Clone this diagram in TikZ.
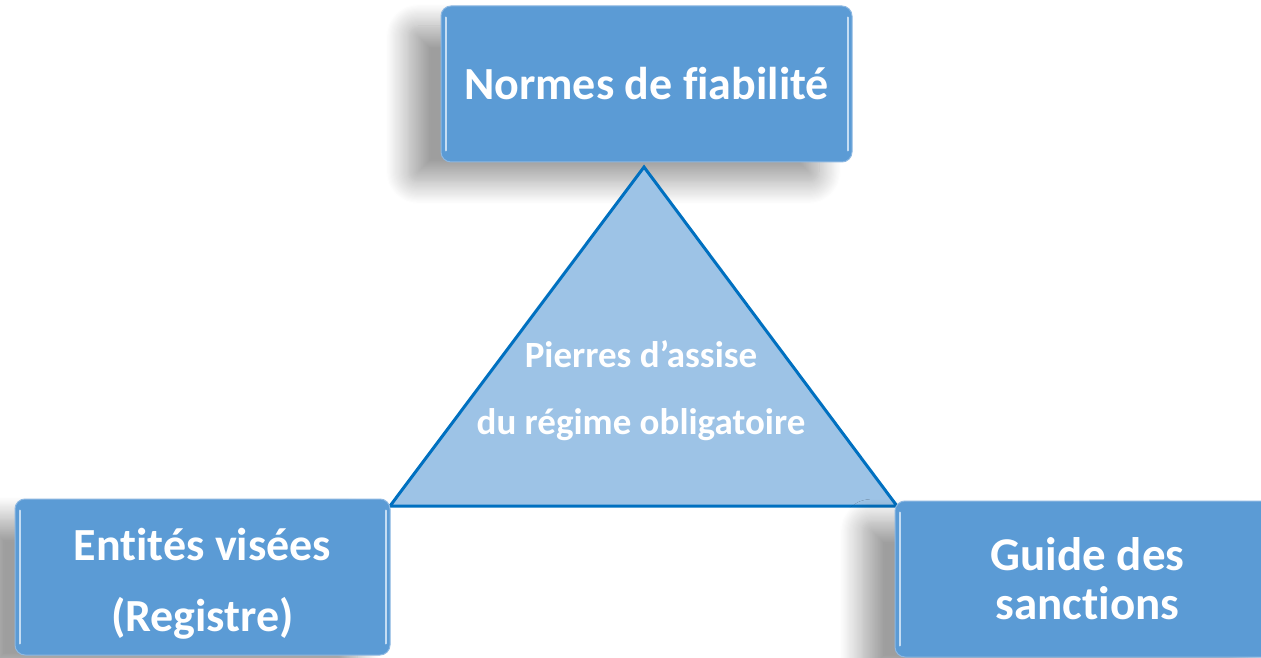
\documentclass[tikz,border=0pt]{standalone}
\usepackage{fontspec}
\setmainfont{Carlito}[Ligatures={NoCommon}]
\usetikzlibrary{shadows.blur}

\definecolor{boxblue}{HTML}{5B9BD5}
\definecolor{boxedge}{HTML}{8DB8E2}
\definecolor{bevelblue}{HTML}{C5DDF3}
\definecolor{trifill}{HTML}{9DC3E6}
\definecolor{triedge}{HTML}{0070C0}

\begin{document}
\begin{tikzpicture}[x=1pt,y=1pt,
            every node/.style={text=white,font=\bfseries,align=center,inner sep=0pt},
            box/.style={draw=boxedge,fill=boxblue,line width=1pt,rounded corners=10pt,
                blur shadow={shadow xshift=-33pt,shadow yshift=-20pt,shadow blur radius=22pt,
                    shadow blur steps=20,shadow opacity=38}},
            bevel/.style={draw=bevelblue,line width=2pt,line cap=round}]
                \useasboundingbox (0,0) rectangle (1261,657);
                \clip (0,0) rectangle (1261,657);

                % top box
                \node[box,minimum width=411pt,minimum height=156pt,
                      font=\bfseries\fontsize{46}{56}\selectfont](normes) at (646.5, 573) {Normes de fiabilit\'e};
                \draw[bevel]([shift={(5pt,12pt)}]normes.south west)--([shift={(5pt,-12pt)}]normes.north west);
                \draw[bevel]([shift={(-5pt,12pt)}]normes.south east)--([shift={(-5pt,-12pt)}]normes.north east);

                % triangle
                \coordinate(apex) at (644, 490);
                \coordinate(baseL) at (390, 151);
                \coordinate(baseR) at (897, 151);
                \draw[triedge,fill=trifill,line width=3pt,line join=miter](apex)--(baseL)--(baseR)--cycle;
                \node[font=\bfseries\fontsize{37}{67}\selectfont](pierres) at (641, 266)
                    {Pierres d\textquoteright assise\\du r\'egime obligatoire};

                % bottom boxes
                \node[box,minimum width=375pt,minimum height=156pt](entites) at (202.5, 80) {};
                \node[font=\bfseries\fontsize{46}{71}\selectfont](entitesText) at ([yshift=-7pt]entites.center)
                    {Entit\'es vis\'ees\\(Registre)};
                \draw[bevel]([shift={(5pt,12pt)}]entites.south west)--([shift={(5pt,-12pt)}]entites.north west);
                \draw[bevel]([shift={(-5pt,12pt)}]entites.south east)--([shift={(-5pt,-12pt)}]entites.north east);

                \node[box,minimum width=385pt,minimum height=156pt,
                      font=\bfseries\fontsize{47}{49}\selectfont](guide) at (1087.5, 78) {Guide des\\sanctions};
                \draw[bevel]([shift={(5pt,12pt)}]guide.south west)--([shift={(5pt,-12pt)}]guide.north west);
        \end{tikzpicture}
\end{document}
